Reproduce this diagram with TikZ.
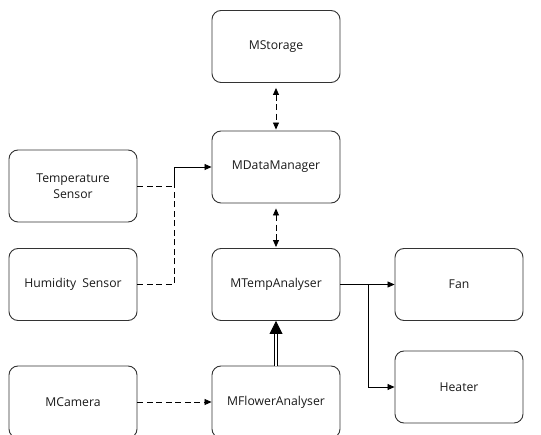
\documentclass[tikz,border=0pt]{standalone}
\usepackage{fontspec}
\setmainfont{Open Sans}
\usetikzlibrary{arrows.meta}

\begin{document}
\begin{tikzpicture}[x=1pt,y=-1pt,
		box/.style={draw=black!80, line width=0.9pt, rounded corners=9pt, minimum width=128pt, minimum height=72pt, align=center, font=\fontsize{12.2}{15.5}\selectfont, text=black!90},
		link/.style={line width=0.8pt, -{Triangle[length=7pt,width=6pt]}},
		dash link/.style={link, dash pattern=on 6pt off 3.5pt},
		both link/.style={dash link, {Triangle[length=7pt,width=6pt]}-{Triangle[length=7pt,width=6pt]}, shorten <=5pt, shorten >=1pt}]
		\useasboundingbox (0,0) rectangle (541,435);
		\node[box] (storage) at (276,46.5) {MStorage};
		\node[box] (manager) at (276,167) {MDataManager};
		\node[box] (analyser) at (276,284.5) {MTempAnalyser};
		\node[box] (flower) at (276,402) {MFlowerAnalyser};
		\node[box] (temp) at (73,186) {Temperature\\Sensor};
		\node[box] (humid) at (73,284.5) {Humidity\enspace Sensor};
		\node[box] (camera) at (73,402) {MCamera};
		\node[box] (fan) at (459,284.5) {Fan};
		\node[box] (heater) at (459,387) {Heater};
		\coordinate (join) at (174,167);
		\coordinate (split) at (368,284.5);
		\draw[both link] (storage) -- (manager);
		\draw[both link] (manager) -- (analyser);
		\draw[dash link, -] (temp.east) -- (temp.east -| join);
		\draw[dash link, -] (humid.east) -- (humid.east -| join) -- (temp.east -| join);
		\draw[link] (temp.east -| join) -- (join) -- (manager.west);
		\draw[link] (analyser.east) -- (fan.west);
		\draw[link] (split) |- (heater.west);
		\draw[dash link] (camera) -- (flower);
		\draw[double, double distance=1.8pt, line width=0.8pt, -{Triangle[length=13pt,width=13pt]}] (flower) -- (analyser);
	\end{tikzpicture}
\end{document}
